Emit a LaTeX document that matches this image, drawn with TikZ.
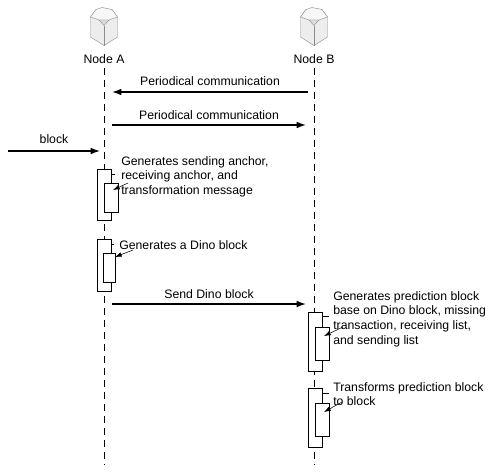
\documentclass[tikz,border=0pt]{standalone}
\usepackage{fontspec}
\setmainfont{Liberation Sans}
\usetikzlibrary{positioning, shadows, arrows.meta}
\definecolor{CubeFill}{HTML}{EDEDED}
\definecolor{CubeTop} {HTML}{F7F7F7}
\definecolor{CubeLine}{HTML}{8C8C8C}
\tikzset{
  every node/.style={font=\fontsize{9.2pt}{11pt}\selectfont},
  % lifeline and messages
  lifeline/.style={black, line width=0.6pt, dash pattern=on 5pt off 4pt},
  msg/.style={-{Latex[length=7pt,width=5pt]}, line width=1pt},
  note/.style={-{Latex[length=5pt,width=3.5pt]}, line width=0.4pt},
  tick/.style={line width=0.4pt},
  % activation boxes
  outerbar/.style={draw, fill=white, line width=0.6pt, minimum width=10pt, inner sep=0pt,
                   drop shadow={opacity=0.45, shadow xshift=-0.5pt, shadow yshift=-0.6pt}},
  innerbar/.style={draw, fill=white, line width=0.6pt, minimum width=10.5pt, inner sep=0pt},
  label/.style={align=left, anchor=north west, inner sep=0pt},
  pics/cubeicon/.style={code={
    \draw[CubeLine, fill=CubeFill, line width=0.3pt]
      (-13.5,-10) -- (-8,-17.5) -- (8,-17.5) -- (13.5,-10) -- (13.5,10) -- (0,18.5) -- (-13.5,10) -- cycle;
    \draw[CubeLine, fill=CubeTop, line width=0.3pt]
      (-13.5,-10) -- (-8,-17.5) -- (-2,-19.5) -- (8,-17.5) -- (13.5,-10) -- (5,-7) -- (-5,-7) -- cycle;
    \draw[CubeLine, fill=CubeFill!85!gray, line width=0.3pt] (-5,-7) -- (5,-7) -- (0,-1.5) -- cycle;
    \draw[CubeLine, line width=0.3pt] (0,-1.5) -- (0,18.5);
  }},
}
\begin{document}
\begin{tikzpicture}[x=0.75pt, y=-0.75pt]
\useasboundingbox (0,0) rectangle (498,475);

\pic at (104,27) {cubeicon};
\pic at (314,27) {cubeicon};
\node (nodeA) at (104,59) {Node A};
\node (nodeB) at (314,59) {Node B};

\coordinate (endA) at (104,465);
\coordinate (endB) at (314,465);
\draw[lifeline] (nodeA.south) -- (endA);
\draw[lifeline] (nodeB.south) -- (endB);

% messages
\coordinate (a1) at (112,92);  \coordinate (b1) at (308,92);
\coordinate (a2) at (112,125); \coordinate (b2) at (306,125);
\coordinate (a3) at (8,151);   \coordinate (b3) at (100,151);
\coordinate (a4) at (112,304); \coordinate (b4) at (306,304);
\draw[msg] (b1) -- (a1) node[midway, above=1pt] (per1) {Periodical communication};
\draw[msg] (a2) -- (b2) node[midway, above=0pt] (per2) {Periodical communication};
\draw[msg] (a3) -- (b3) node[midway, above=2pt] (blk) {block};
\draw[msg] (a4) -- (b4) node[midway, above=0pt] (send) {Send Dino block};

% activation boxes
\node[outerbar, minimum height=38.25pt] (actA1) at (104.5,194.5) {};
\node[innerbar, minimum height=21.75pt] (subA1) at (111.5,197.5) {};
\node[outerbar, minimum height=39pt] (actA2) at (104.5,265) {};
\node[innerbar, minimum height=21.75pt, minimum width=9.5pt] (subA2) at (109.5,267.5) {};
\node[outerbar, minimum height=44.25pt] (actB1) at (315.5,341.5) {};
\node[innerbar, minimum height=24.75pt] (subB1) at (322.5,343.5) {};
\node[outerbar, minimum height=44.25pt] (actB2) at (315.5,417.5) {};
\node[innerbar, minimum height=24.75pt] (subB2) at (322.5,419.5) {};

% notes
\node[label] (noteA1) at (121,156) {Generates sending anchor,\\receiving anchor, and\\transformation message};
\node[label] (noteA2) at (119,240) {Generates a Dino block};
\node[label] (noteB1) at (333,291) {Generates prediction block\\base on Dino block, missing\\transaction, receiving list,\\and sending list};
\node[label] (noteB2) at (333,382) {Transforms prediction block\\to block};

\coordinate (tickA1) at (115,174);
\coordinate (tickA2) at (114,244);
\coordinate (tickB1) at (329,316);
\coordinate (tickB2) at (329,393);
\draw[tick] (tickA1) -- (tickA1 -| actA1.east);
\draw[tick] (tickA2) -- (tickA2 -| actA2.east);
\draw[tick] (tickB1) -- (tickB1 -| actB1.east);
\draw[tick] (tickB2) -- (tickB2 -| actB2.east);

\coordinate (fromA1) at (128,183);
\coordinate (fromA2) at (133,250);
\coordinate (fromB1) at (343,327);
\coordinate (fromB2) at (342,402);
\coordinate (toA1) at (113,190);
\coordinate (toA2) at (115,257);
\coordinate (toB1) at (324,336);
\coordinate (toB2) at (324,412);
\draw[note] (fromA1) -- (toA1);
\draw[note] (fromA2) -- (toA2);
\draw[note] (fromB1) -- (toB1);
\draw[note] (fromB2) -- (toB2);

\end{tikzpicture}
\end{document}
